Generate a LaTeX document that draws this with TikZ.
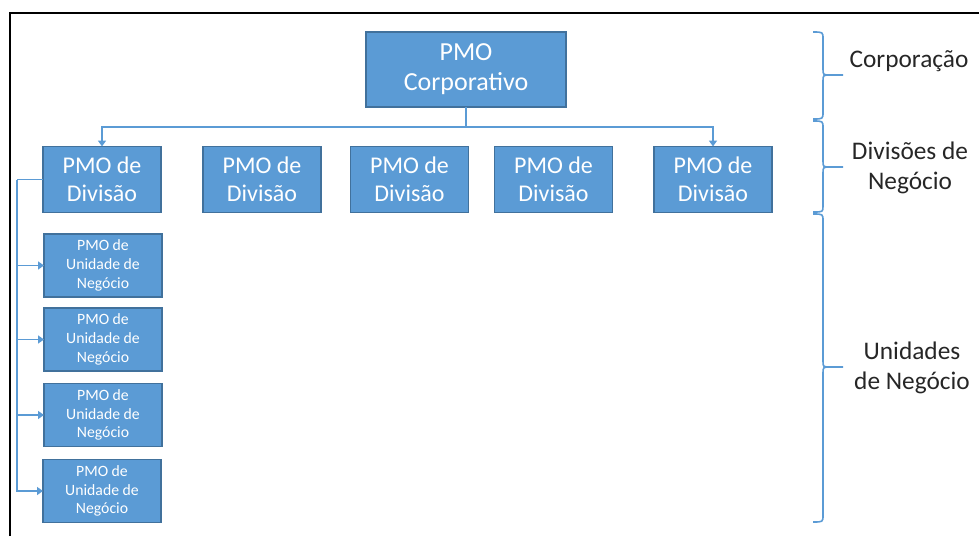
\documentclass[tikz,border=0pt]{standalone}
\usepackage{fontspec}
\setmainfont{Carlito}
\usetikzlibrary{arrows.meta}
\definecolor{pmofill}{RGB}{91,155,213}
\definecolor{pmoedge}{RGB}{65,113,156}
\definecolor{linkblue}{RGB}{91,155,213}
\definecolor{labelgray}{RGB}{38,38,38}
\begin{document}
\begin{tikzpicture}[x=0.75pt,y=-0.75pt,
  pmo/.style={draw=pmoedge,line width=0.9pt,fill=pmofill,text=white,align=center,inner sep=0pt,outer sep=0pt},
  corp/.style={pmo,minimum width=150pt,minimum height=56.25pt,font=\fontsize{19.5}{22.5}\selectfont},
  division/.style={pmo,minimum width=88.5pt,minimum height=49.5pt,font=\fontsize{18}{21}\selectfont},
  unit/.style={pmo,minimum width=88.5pt,minimum height=47.25pt,font=\fontsize{11.8}{14}\selectfont},
  link/.style={draw=linkblue,line width=1.2pt},
  tip/.style={-{Triangle[length=4.5pt,width=6pt]}},
  level/.style={draw=linkblue,line width=1.2pt},
  levellabel/.style={text=labelgray,align=center,font=\fontsize{19}{22.5}\selectfont}]
\useasboundingbox (0,0) rectangle (979,536);
\draw[line width=1.5pt] (10,536) -- (10,12.5) -- (979,12.5);
\node[corp] (corp) at (466,69.5) {PMO\\Corporativo};
\node[division] (div1) at (102,179.5) {PMO de\\Divisão};
\node[division] (div2) at (262,179.5) {PMO de\\Divisão};
\node[division] (div3) at (409.5,179.5) {PMO de\\Divisão};
\node[division] (div4) at (553.5,179.5) {PMO de\\Divisão};
\node[division] (div5) at (713,179.5) {PMO de\\Divisão};
\node[unit] (unit1) at (103,265.5) {PMO de\\Unidade de\\Negócio};
\node[unit] (unit2) at (103,339.5) {PMO de\\Unidade de\\Negócio};
\node[unit] (unit3) at (103,415) {PMO de\\Unidade de\\Negócio};
\node[unit] (unit4) at (102,491) {PMO de\\Unidade de\\Negócio};
\coordinate (bus) at (466,127);
\draw[link] (corp.south) -- (bus);
\draw[link,tip] (bus) -| (div1.north);
\draw[link,tip] (bus) -| (div5.north);
\coordinate (spine) at (17,179.5);
\draw[link] (div1.west) -- (spine);
\draw[link,tip] (spine) |- (unit1.west);
\draw[link,tip] (spine) |- (unit2.west);
\draw[link,tip] (spine) |- (unit3.west);
\draw[link,tip] (spine) |- (unit4.west);
\draw[level] (813,32) .. controls (823,32) .. (823,39) -- (823,69) .. controls (823,75) .. (831,75) -- (843,75);
\draw[level] (831,75) .. controls (823,75) .. (823,81) -- (823,112) .. controls (823,119) .. (813,119);
\draw[level] (813,121) .. controls (823,121) .. (823,128) -- (823,161) .. controls (823,167) .. (831,167) -- (843,167);
\draw[level] (831,167) .. controls (823,167) .. (823,173) -- (823,206) .. controls (823,212) .. (813,212);
\draw[level] (813,214) .. controls (823,214) .. (823,221) -- (823,361) .. controls (823,367) .. (831,367) -- (843,367);
\draw[level] (831,367) .. controls (823,367) .. (823,373) -- (823,515) .. controls (823,522) .. (813,522);
\node[levellabel] (lcorp) at (909,61) {Corporação};
\node[levellabel] (ldiv) at (910,168) {Divisões de\\Negócio};
\node[levellabel] (lunit) at (912,368) {Unidades\\de Negócio};
\end{tikzpicture}
\end{document}
